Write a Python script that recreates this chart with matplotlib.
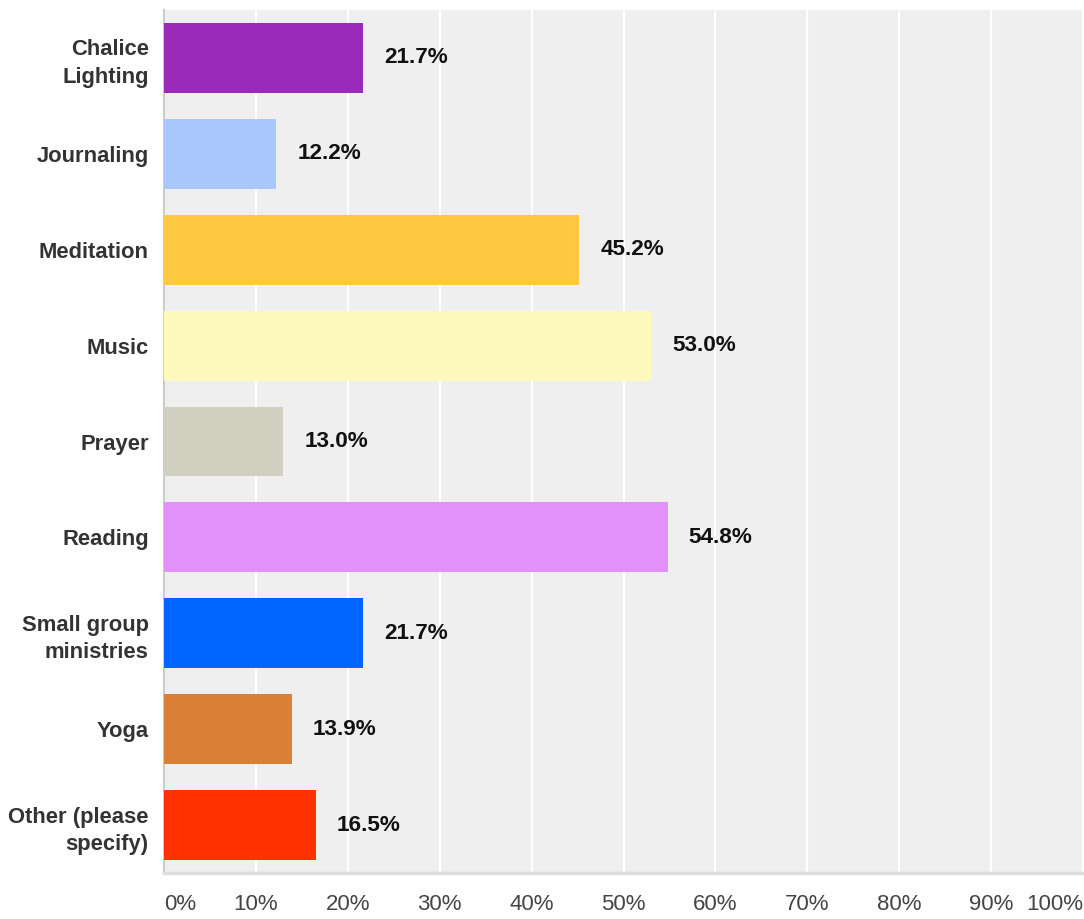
import matplotlib.pyplot as plt

# data
categories = ['Chalice\nLighting', 'Journaling', 'Meditation', 'Music', 'Prayer',
              'Reading', 'Small group\nministries', 'Yoga', 'Other (please\nspecify)']
values = [21.7, 12.2, 45.2, 53.0, 13.0, 54.8, 21.7, 13.9, 16.5]
colors = ['#9a2ab9', '#a8c7fa', '#fec941', '#fefabc', '#d0cfc0',
          '#e291f8', '#0066ff', '#da7f36', '#ff3300']
ticks = [0, 10, 20, 30, 40, 50, 60, 70, 80, 90, 100]
tick_labels = [f'{t}%' for t in ticks]

plt.rcParams['font.family'] = ['Liberation Sans', 'DejaVu Sans']

W, H = 1084, 919
fig = plt.figure(figsize=(W / 100, H / 100), dpi=100)
ax = fig.add_axes([164 / W, (H - 873) / H, (1083 - 164) / W, (873 - 10) / H])
ax.set_facecolor('#efefef')

y = list(range(len(categories)))
ax.barh(y, values, height=0.73, color=colors, zorder=3)
for yi, v in zip(y, values):
    ax.text(v + 2.3, yi, f'{v:.1f}%', va='center', ha='left',
            fontsize=16.2, fontweight='bold', color='#111111', zorder=4)

ax.set_ylim(len(categories) - 0.5, -0.5)
ax.set_xlim(0, 100)
ax.set_yticks(y)
ax.set_yticklabels(categories, fontsize=15.8, fontweight='bold', color='#333333',
                   linespacing=1.42)
ax.set_xticks(ticks)
ax.set_xticklabels(tick_labels, fontsize=16, color='#444444')
labs = ax.get_xticklabels()
labs[0].set_ha('left')
labs[-1].set_ha('right')
ax.tick_params(axis='x', length=0, pad=15)
ax.tick_params(axis='y', length=0, pad=11)

ax.grid(axis='x', color='white', linewidth=1.6, zorder=1)
for s in ['top', 'right']:
    ax.spines[s].set_visible(False)
ax.spines['left'].set_color('#cccccc')
ax.spines['left'].set_linewidth(1.5)
ax.spines['bottom'].set_color('#dddddd')
ax.spines['bottom'].set_linewidth(2.5)

fig.savefig('out.png', dpi=100, facecolor='white')
